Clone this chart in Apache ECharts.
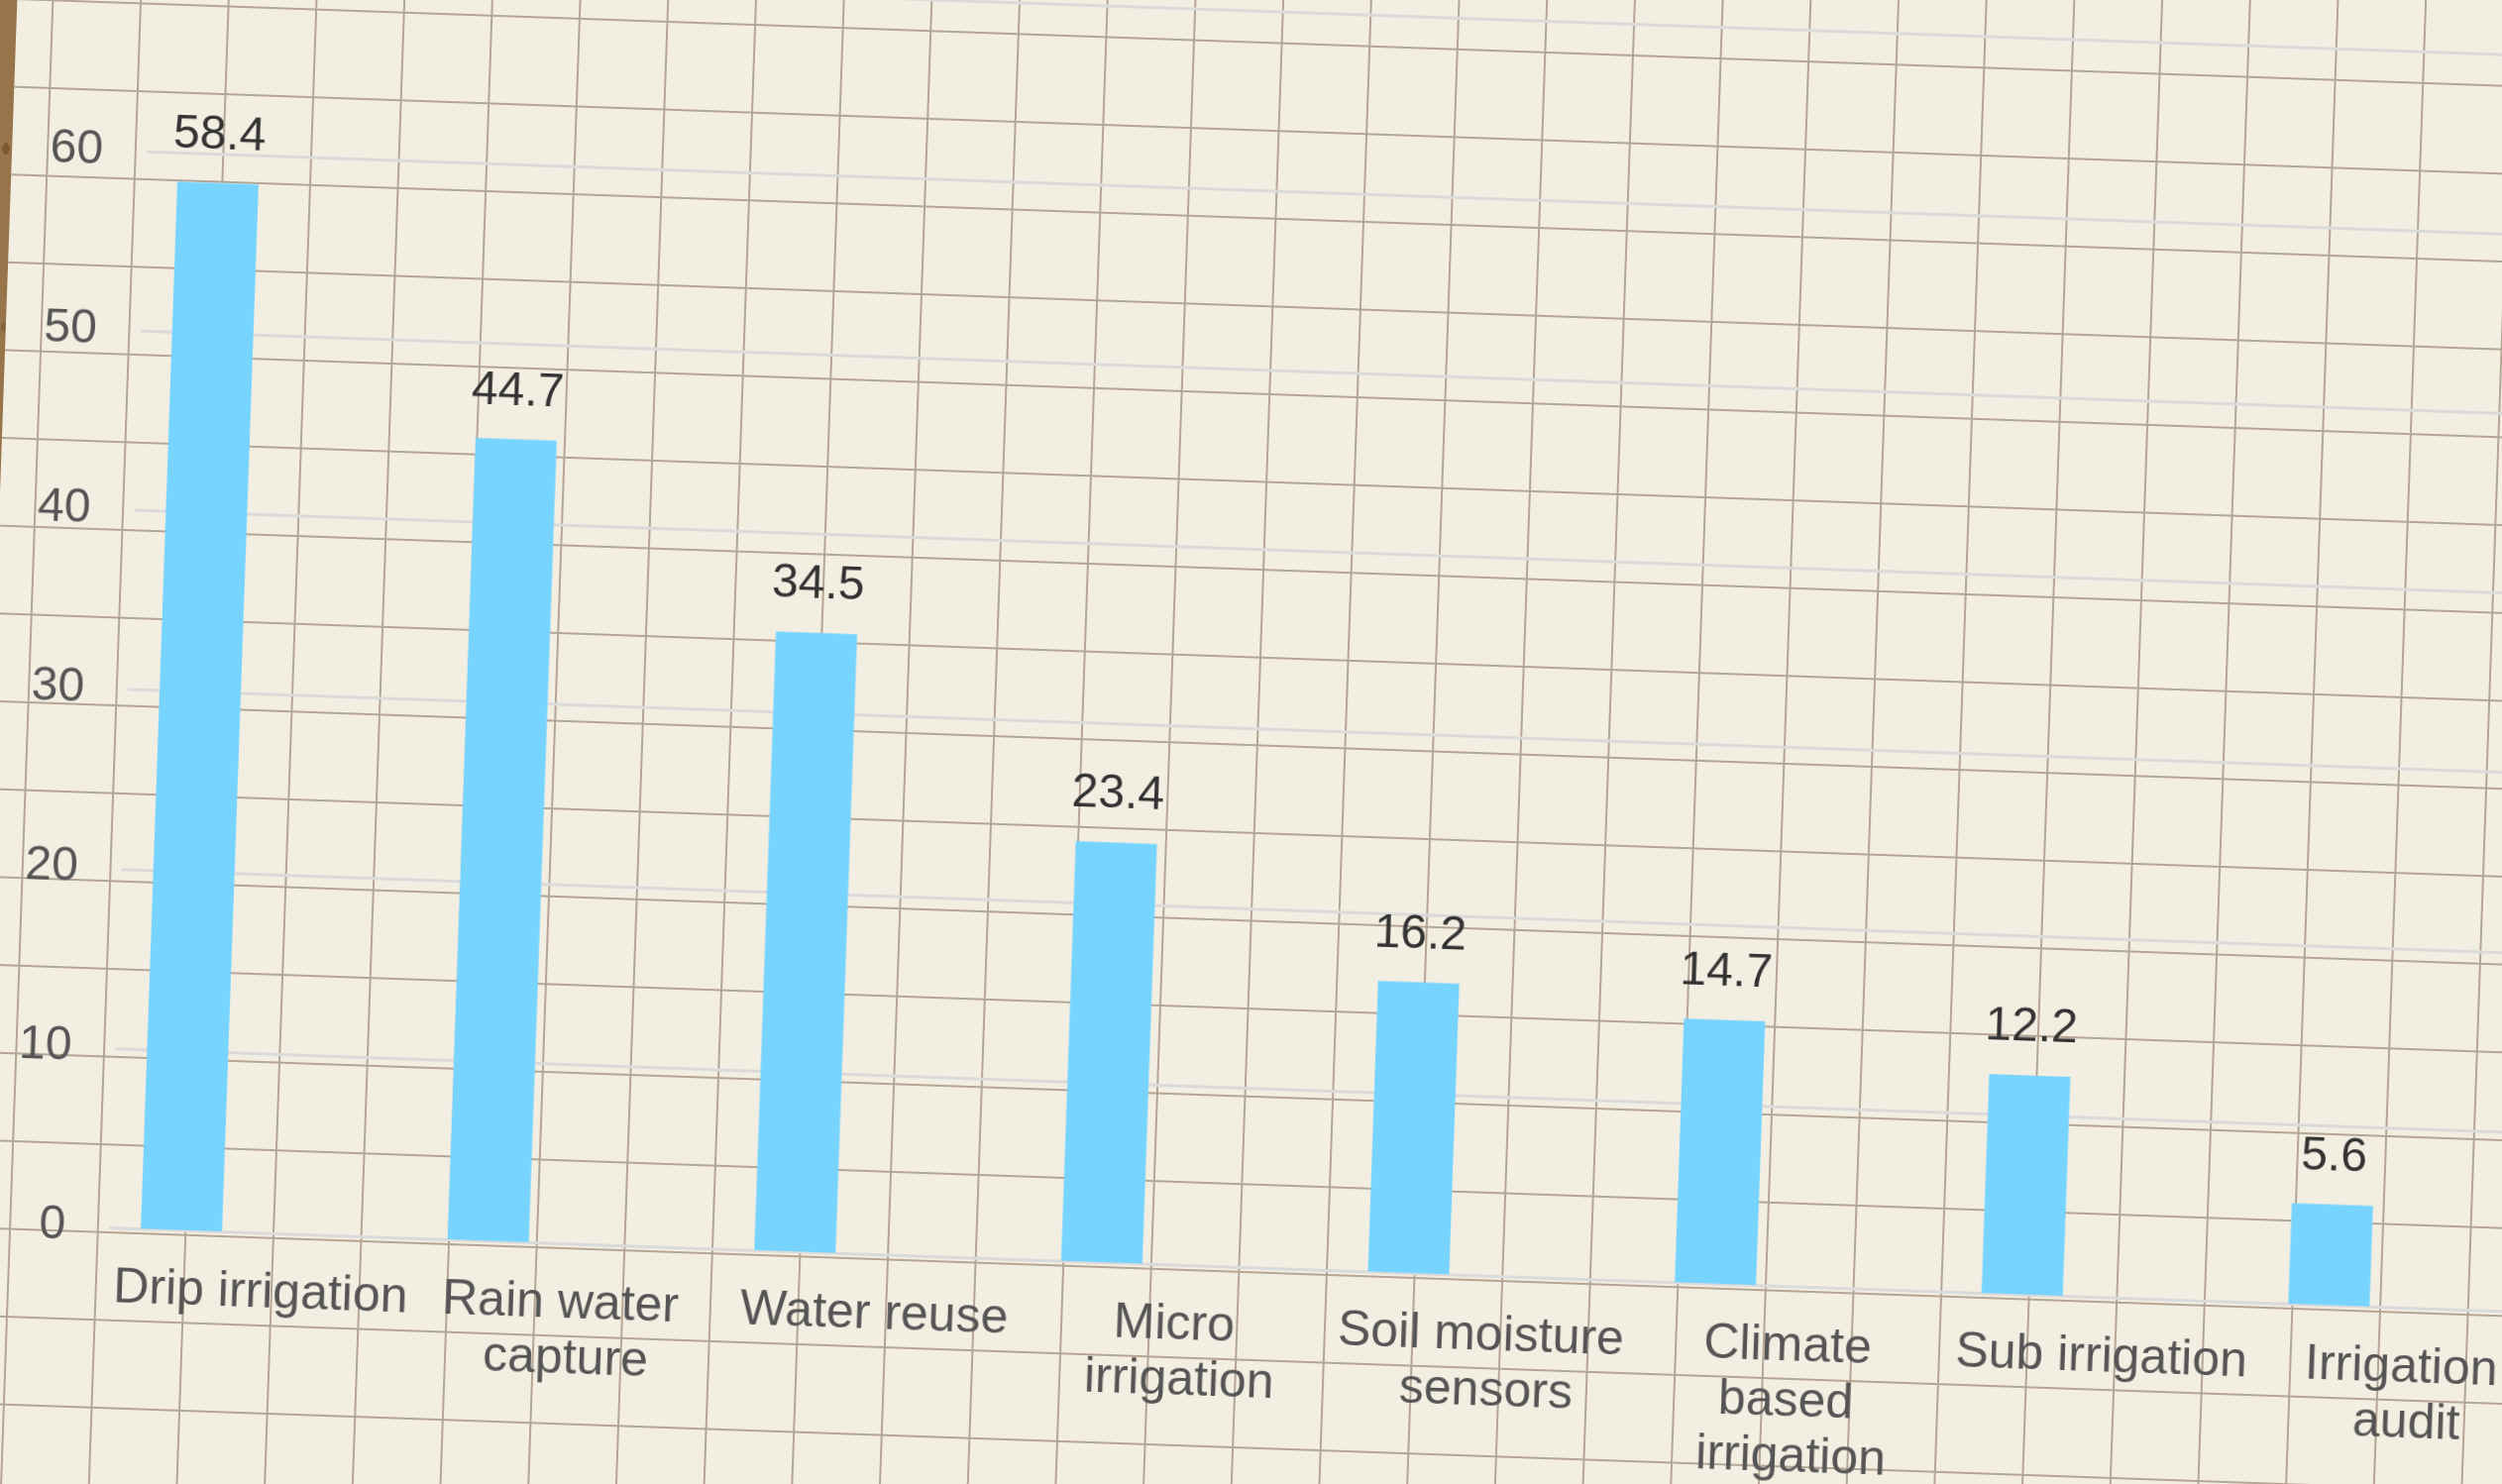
<!DOCTYPE html>
<html>
<head>
<meta charset="utf-8">
<script src="https://cdn.jsdelivr.net/npm/echarts@6/dist/echarts.min.js"></script>
<style>
  html, body { margin: 0; padding: 0; width: 2525px; height: 1498px; overflow: hidden; }
  body {
    background-color: #98744a;
    background-image:
      radial-gradient(ellipse 6px 10px at 6px 150px, #7d5a34 0 60%, transparent 61%),
      radial-gradient(ellipse 5px 8px at 4px 330px, #85633c 0 60%, transparent 61%);
  }
  #stage {
    position: absolute; left: -100px; top: -150px; width: 2800px; height: 1800px;
    transform-origin: 1362.5px 899px; transform: rotate(2deg);
  }
  #paper {
    position: absolute; left: 92px; top: 0; right: 0; bottom: 0;
    background-color: #f3eee2;
    background-image:
      linear-gradient(to right, #b4a594 0, #b4a594 2px, transparent 2px),
      linear-gradient(to bottom, #b4a594 0, #b4a594 2px, transparent 2px);
    background-size: 88.65px 88.65px;
    background-position: 35px 14.7px;
  }
  #chart { position: absolute; left: 0; top: 0; width: 2800px; height: 1800px; }
</style>
</head>
<body>
<div id="stage">
  <div id="paper"></div>
  <div id="chart"></div>
</div>
<script>
const categories = ['Drip irrigation', 'Rain water capture', 'Water reuse', 'Micro irrigation',
  'Soil moisture sensors', 'Climate based irrigation', 'Sub irrigation', 'Irrigation audit'];
const values = [58.4, 44.7, 34.5, 23.4, 16.2, 14.7, 12.2, 5.6];
const yMin = 0, yMax = 70, yStep = 10;

const FONT = "'Liberation Sans', Arial, sans-serif";
const chart = echarts.init(document.getElementById('chart'), null, { renderer: 'canvas' });
chart.setOption({
  animation: false,
  backgroundColor: 'transparent',
  grid: { left: 228, top: 161.3, width: 2478.4, height: 1267.7, containLabel: false },
  xAxis: {
    type: 'category',
    data: categories,
    axisLine: { show: false },
    axisTick: { show: false },
    splitLine: { show: false },
    axisLabel: {
      interval: 0, margin: 33, fontSize: 50, lineHeight: 56, color: '#555555',
      fontFamily: FONT, width: 304, overflow: 'break', align: 'center'
    }
  },
  yAxis: {
    type: 'value', min: yMin, max: yMax, interval: yStep,
    axisLine: { show: false }, axisTick: { show: false },
    splitLine: { show: true, lineStyle: { color: '#dadada', width: 3 } },
    axisLabel: { margin: 44, fontSize: 48, color: '#555555', fontFamily: FONT, padding: [6, 0, 0, 0] }
  },
  series: [
    {
      type: 'bar', data: values, barWidth: 82, barGap: '100%',
      itemStyle: { color: '#76d4ff' },
      label: { show: true, position: 'top', distance: 24, fontSize: 48, color: '#333333', fontFamily: FONT }
    },
    { type: 'bar', data: [], barWidth: 82 }
  ]
});
</script>
</body>
</html>
